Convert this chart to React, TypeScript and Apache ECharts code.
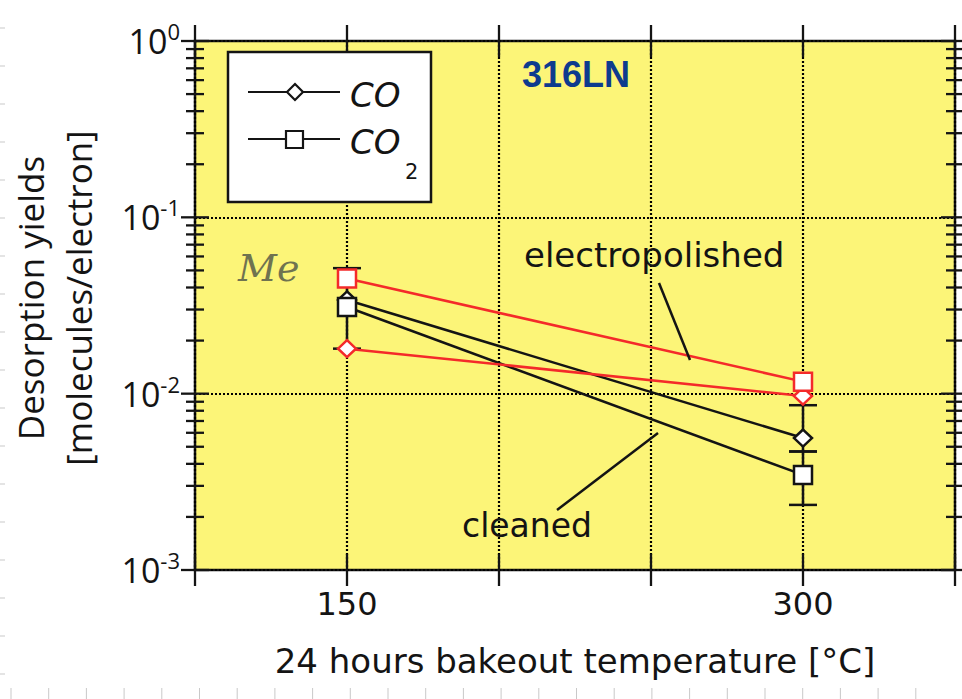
import { useEffect, useRef } from "react";
import * as echarts from "echarts";

// Bakeout temperatures [°C]
const temperatures = [150, 300];

// Desorption yields [molecules/electron]
const electropolishedCO = [0.018, 0.0097];
const electropolishedCO2 = [0.045, 0.0117];
const cleanedCO = [0.034, 0.0056];
const cleanedCO2 = [0.031, 0.00346];

// Error bars: [temperature, low, high]
const errorBars = [
  [150, 0.018, 0.0515],
  [300, 0.0047, 0.0086],
  [300, 0.00234, 0.0047],
];

// Axis setup
const X_MIN = 100;
const X_MAX = 350;
const X_STEP = 50;
const xLabelValues = [150, 300];
const xTickValues = [100, 150, 200, 250, 300, 350];
const yDecades = [0.001, 0.01, 0.1, 1];
const yMinorMultipliers = [2, 3, 4, 5, 6, 7, 8, 9];

const RED = "#f42a2a";
const INK = "#141414";
const YELLOW = "#fcf578";
const COMIC = "'DejaVu Sans', sans-serif";
const CALIBRI = "'Open Sans', sans-serif";

const pair = (vals: number[]) => temperatures.map((t, i) => [t, vals[i]]);

export default function App() {
  const ref = useRef<HTMLDivElement>(null);

  useEffect(() => {
    if (!ref.current) return;
    const chart = echarts.init(ref.current, null, { renderer: "svg" });

    const yTicks: number[][] = [];
    yDecades.forEach((d, i) => {
      yTicks.push([X_MIN, d, 1]);
      if (i < yDecades.length - 1) {
        yMinorMultipliers.forEach((m) => yTicks.push([X_MIN, d * m, 0]));
      }
    });
    const xTicks = xTickValues.map((x) => [x, 0.001]);

    const lineSeries = (
      name: string,
      vals: number[],
      color: string,
      symbol: string,
      size: number[],
      z: number
    ) => ({
      name,
      type: "line",
      data: pair(vals),
      symbol,
      symbolSize: size,
      z,
      lineStyle: { color, width: 2.5 },
      itemStyle: { color: "#ffffff", borderColor: color, borderWidth: 2.5 },
      emphasis: { disabled: true },
    });

    const gridLine = { show: true, lineStyle: { color: "#000000", width: 2.2, type: [2, 2] } };

    chart.setOption({
      animation: false,
      backgroundColor: "#ffffff",
      grid: {
        left: 195,
        right: 7,
        top: 41,
        bottom: 129,
        show: true,
        backgroundColor: YELLOW,
        borderColor: INK,
        borderWidth: 2.5,
      },
      xAxis: {
        type: "value",
        min: X_MIN,
        max: X_MAX,
        interval: X_STEP,
        axisLine: { show: false },
        axisTick: { show: false },
        splitLine: gridLine,
        axisLabel: {
          margin: 18,
          fontFamily: COMIC,
          fontSize: 32,
          color: INK,
          formatter: (v: number) => (xLabelValues.includes(v) ? String(v) : ""),
        },
        name: "24 hours bakeout temperature [°C]",
        nameLocation: "middle",
        nameGap: 74,
        nameTextStyle: { fontFamily: COMIC, fontSize: 34, color: INK },
      },
      yAxis: {
        type: "log",
        logBase: 10,
        min: 0.001,
        max: 1,
        axisLine: { show: false },
        axisTick: { show: false },
        splitLine: gridLine,
        axisLabel: {
          margin: 15,
          formatter: (v: number) => `{b|10}{s|${Math.round(Math.log10(v))}}`,
          rich: {
            b: { fontFamily: CALIBRI, fontSize: 34, color: INK, lineHeight: 42 },
            s: {
              fontFamily: CALIBRI,
              fontSize: 22,
              color: INK,
              verticalAlign: "top",
              lineHeight: 22,
            },
          },
        },
      },
      series: [
        {
          name: "yTicks",
          type: "custom",
          silent: true,
          clip: false,
          z: 5,
          data: yTicks,
          encode: { x: 0, y: 1 },
          renderItem: (params: any, api: any) => {
            const cs = params.coordSys;
            const y = api.coord([X_MIN, api.value(1)])[1];
            const len = api.value(2) === 1 ? 14 : 9;
            const l = cs.x;
            const r = cs.x + cs.width;
            const st = { stroke: INK, lineWidth: 2.3 };
            return {
              type: "group",
              children: [
                { type: "line", shape: { x1: l - len, y1: y, x2: l + len, y2: y }, style: st },
                { type: "line", shape: { x1: r - len, y1: y, x2: r + len, y2: y }, style: st },
              ],
            };
          },
        },
        {
          name: "xTicks",
          type: "custom",
          silent: true,
          clip: false,
          z: 5,
          data: xTicks,
          encode: { x: 0, y: 1 },
          renderItem: (params: any, api: any) => {
            const cs = params.coordSys;
            const x = api.coord([api.value(0), 0.001])[0];
            const len = 16;
            const t = cs.y;
            const b = cs.y + cs.height;
            const st = { stroke: INK, lineWidth: 2.3 };
            return {
              type: "group",
              children: [
                { type: "line", shape: { x1: x, y1: b - len, x2: x, y2: b + len }, style: st },
                { type: "line", shape: { x1: x, y1: t - len, x2: x, y2: t + len }, style: st },
              ],
            };
          },
        },
        {
          name: "errorBars",
          type: "custom",
          silent: true,
          clip: false,
          z: 6,
          data: errorBars,
          encode: { x: 0, y: [1, 2] },
          renderItem: (_params: any, api: any) => {
            const x = api.value(0);
            const lo = api.coord([x, api.value(1)]);
            const hi = api.coord([x, api.value(2)]);
            const hw = 14;
            const st = { stroke: INK, lineWidth: 2.5 };
            return {
              type: "group",
              children: [
                { type: "line", shape: { x1: lo[0], y1: lo[1], x2: hi[0], y2: hi[1] }, style: st },
                { type: "line", shape: { x1: lo[0] - hw, y1: lo[1], x2: lo[0] + hw, y2: lo[1] }, style: st },
                { type: "line", shape: { x1: hi[0] - hw, y1: hi[1], x2: hi[0] + hw, y2: hi[1] }, style: st },
              ],
            };
          },
        },
        lineSeries("cleaned CO", cleanedCO, INK, "diamond", [18, 17], 7),
        lineSeries("cleaned CO2", cleanedCO2, INK, "rect", [18, 18], 8),
        lineSeries("electropolished CO", electropolishedCO, RED, "diamond", [18, 17], 9),
        lineSeries("electropolished CO2", electropolishedCO2, RED, "rect", [18, 18], 10),
      ],
      graphic: [
        // faint ruler marks of the page
        ...Array.from({ length: 25 }, (_, i) => ({
          type: "line",
          silent: true,
          shape: { x1: 11 + i * 37.7, y1: 688, x2: 11 + i * 37.7, y2: 699 },
          style: { stroke: "#c9c9c9", lineWidth: 1 },
        })),
        ...Array.from({ length: 18 }, (_, i) => ({
          type: "line",
          silent: true,
          shape: { x1: 0, y1: 28 + i * 38, x2: 5, y2: 28 + i * 38 },
          style: { stroke: "#c9c9c9", lineWidth: 1 },
        })),
        // y axis title
        {
          type: "text",
          x: 54,
          y: 298,
          rotation: Math.PI / 2,
          silent: true,
          style: {
            text: "Desorption yields\n[molecules/electron]",
            font: `35px ${CALIBRI}`,
            fill: INK,
            align: "center",
            verticalAlign: "middle",
            lineHeight: 48,
          },
        },
        // legend
        {
          type: "rect",
          silent: true,
          z: 20,
          shape: { x: 228, y: 52, width: 203, height: 150 },
          style: { fill: "#ffffff", stroke: INK, lineWidth: 2.5 },
        },
        {
          type: "line",
          silent: true,
          z: 21,
          shape: { x1: 248, y1: 92, x2: 340, y2: 92 },
          style: { stroke: INK, lineWidth: 2.2 },
        },
        {
          type: "polygon",
          silent: true,
          z: 22,
          shape: { points: [[295, 84], [303, 92], [295, 100], [287, 92]] },
          style: { fill: "#ffffff", stroke: INK, lineWidth: 2.2 },
        },
        {
          type: "line",
          silent: true,
          z: 21,
          shape: { x1: 248, y1: 139, x2: 340, y2: 139 },
          style: { stroke: INK, lineWidth: 2.2 },
        },
        {
          type: "rect",
          silent: true,
          z: 22,
          shape: { x: 286, y: 131, width: 17, height: 17 },
          style: { fill: "#ffffff", stroke: INK, lineWidth: 2.2 },
        },
        {
          type: "text",
          silent: true,
          z: 22,
          x: 350,
          y: 95,
          style: {
            text: "CO",
            font: `italic 34px ${COMIC}`,
            fill: INK,
            verticalAlign: "middle",
          },
        },
        {
          type: "text",
          silent: true,
          z: 22,
          x: 350,
          y: 142,
          style: {
            text: "CO",
            font: `italic 34px ${COMIC}`,
            fill: INK,
            verticalAlign: "middle",
          },
        },
        {
          type: "text",
          silent: true,
          z: 22,
          x: 405,
          y: 172,
          style: {
            text: "2",
            font: `21px ${COMIC}`,
            fill: INK,
            verticalAlign: "middle",
          },
        },
        // material label
        {
          type: "text",
          silent: true,
          z: 22,
          x: 522,
          y: 74,
          style: {
            text: "316LN",
            font: `bold 36px 'Liberation Sans', Arial, sans-serif`,
            fill: "#0d3b8e",
            verticalAlign: "middle",
          },
        },
        // handwritten note
        {
          type: "text",
          silent: true,
          z: 22,
          x: 238,
          y: 268,
          style: {
            text: "Me",
            font: `italic 38px 'DejaVu Serif', serif`,
            fill: "#6f7350",
            verticalAlign: "middle",
          },
        },
        // surface treatment annotations
        {
          type: "text",
          silent: true,
          z: 22,
          x: 524,
          y: 255,
          style: {
            text: "electropolished",
            font: `34px ${COMIC}`,
            fill: INK,
            verticalAlign: "middle",
          },
        },
        {
          type: "line",
          silent: true,
          z: 22,
          shape: { x1: 659, y1: 283, x2: 690, y2: 360 },
          style: { stroke: INK, lineWidth: 2.5 },
        },
        {
          type: "text",
          silent: true,
          z: 22,
          x: 462,
          y: 525,
          style: {
            text: "cleaned",
            font: `33px ${COMIC}`,
            fill: INK,
            verticalAlign: "middle",
          },
        },
        {
          type: "line",
          silent: true,
          z: 22,
          shape: { x1: 557, y1: 510, x2: 658, y2: 433 },
          style: { stroke: INK, lineWidth: 2.5 },
        },
      ],
    });

    return () => chart.dispose();
  }, []);

  return (
    <div
      ref={ref}
      style={{ position: "fixed", left: 0, top: 0, width: 962, height: 699 }}
    />
  );
}
